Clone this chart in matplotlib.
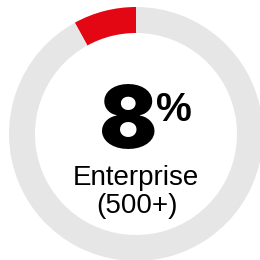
import matplotlib.pyplot as plt

# share of the segment
labels = ['Enterprise (500+)', 'Other']
values = [8, 92]
colors = ['#E30613', '#E6E6E6']
big_value = '8'
unit = '%'
caption = ['Enterprise', '(500+)']

plt.rcParams['font.family'] = ['Liberation Sans', 'DejaVu Sans']

fig = plt.figure(figsize=(2.6, 2.6), dpi=100)
ax = fig.add_axes([0, 0, 1, 1])

# ring, partly cut off on right and bottom like the original
ax.pie(values, colors=colors, startangle=90, counterclock=True,
       center=(136, 126), radius=127, frame=True,
       wedgeprops=dict(width=26, linewidth=0))
ax.set_xlim(0, 260)
ax.set_ylim(0, 260)
ax.set_aspect('equal')
ax.axis('off')

ax.text(128, 112, big_value, ha='center', va='baseline',
        fontsize=62, fontweight=900, family=['Inter', 'Liberation Sans'],
        color='black')
ax.text(156, 139, unit, ha='left', va='baseline',
        fontsize=29, fontweight='bold', color='black')
ax.text(136, 75, caption[0], ha='center', va='baseline',
        fontsize=20, color='black')
ax.text(137, 47, caption[1], ha='center', va='baseline',
        fontsize=20, color='black')

fig.savefig('out.png', dpi=100)
